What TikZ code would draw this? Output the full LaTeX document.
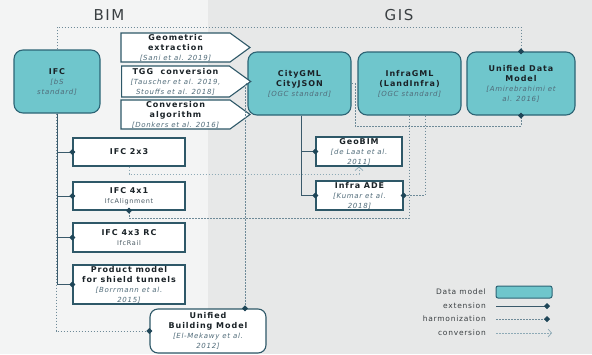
\documentclass[tikz,border=0pt]{standalone}
\usepackage{fontspec}
\setmainfont{DejaVu Sans}
\newfontfamily\lblfont[LetterSpace=12]{DejaVu Sans}
\newfontfamily\reffont[LetterSpace=10]{DejaVu Sans}
\newfontfamily\headfont[LetterSpace=10]{DejaVu Sans}
\usetikzlibrary{arrows.meta,shapes.symbols}
\definecolor{cFill}{HTML}{6FC6CC}
\definecolor{cBorder}{HTML}{2C6475}
\definecolor{cWb}{HTML}{2E5868}
\definecolor{cTxt}{HTML}{1A2227}
\definecolor{cRef}{HTML}{506B79}
\definecolor{cConn}{HTML}{3A5A6B}
\definecolor{cHarm}{HTML}{6E8A98}
\definecolor{cConv}{HTML}{8EAAB6}
\definecolor{cDia}{HTML}{1F4658}
\definecolor{cBgL}{HTML}{F3F4F4}
\definecolor{cBgR}{HTML}{E7E8E8}
\definecolor{cHead}{HTML}{3A3F42}
\definecolor{cSub}{HTML}{4A5A63}
\newcommand{\rf}[1]{{\reffont\mdseries\itshape\fontsize{7}{9}\selectfont\color{cRef}#1}}
\newcommand{\sbt}[1]{{\reffont\mdseries\fontsize{6.5}{9}\selectfont\color{cSub}#1}}
\begin{document}
\begin{tikzpicture}[x=1pt,y=-1pt,
  lbl/.style={align=center, text=cTxt, font=\lblfont\bfseries\fontsize{8}{10}\selectfont},
  dm/.style={lbl, draw=cBorder, fill=cFill, line width=1.1pt, rounded corners=9pt, inner sep=1pt},
  wb/.style={lbl, draw=cWb, fill=white, line width=1.1pt, inner sep=1pt},
  sig/.style={wb, shape=signal, signal to=east, signal pointer angle=72},
  dtip/.tip={Diamond[length=6pt,width=6pt,color=cDia,fill=cDia]},
  ext/.style={draw=cConn, line width=0.7pt, -dtip, shorten >=-3pt},
  harmline/.style={draw=cHarm, line width=0.7pt, dash pattern=on 1.6pt off 1.4pt},
  harm/.style={harmline, -dtip, shorten >=-3pt},
  conv/.style={draw=cConv, line width=0.7pt, dash pattern=on 1.6pt off 1.4pt, -{Straight Barb[length=3.5pt,width=8pt,color=cConv]}},
  legtxt/.style={font=\reffont\fontsize{7.5}{9}\selectfont, text=cHead, anchor=east, inner sep=0pt}
]
\fill[cBgR] (0,0) rectangle (592,354);
\fill[cBgL] (0,0) rectangle (208,354);
\useasboundingbox (0,0) rectangle (592,354);

% headings
\node[font=\headfont\fontsize{15}{17}\selectfont, text=cHead] (bim) at (109,15) {BIM};
\node[font=\headfont\fontsize{15}{17}\selectfont, text=cHead] (gis) at (399,15) {GIS};

% data models
\node[dm, minimum width=86pt, minimum height=63pt] (ifc) at (57,81.5) {IFC\\\rf{[bS}\\\rf{standard]}};
\node[dm, minimum width=103pt, minimum height=63pt] (city) at (299.5,83.5) {CityGML\\CityJSON\\\rf{[OGC standard]}};
\node[dm, minimum width=103pt, minimum height=63pt] (infra) at (409.5,83.5) {InfraGML\\(LandInfra)\\\rf{[OGC standard]}};
\node[dm, minimum width=108pt, minimum height=63pt] (udm) at (521,83.5) {Unified Data\\Model\\\rf{[Amirebrahimi et}\\\rf{al. 2016]}};

% conversions (arrow boxes)
\node[sig, minimum width=129pt, minimum height=29pt] (geo) at (175.5,47.5) {Geometric\\extraction\\\rf{[Sani et al. 2019]}};
\node[sig, minimum width=129pt, minimum height=31pt] (tgg) at (175.5,81.5) {TGG~ conversion\\\rf{[Tauscher et al. 2019,}\\\rf{Stouffs et al. 2018]}};
\node[sig, minimum width=129pt, minimum height=28pt] (calg) at (175.5,114.5) {Conversion\\algorithm\\\rf{[Donkers et al. 2016]}};

% IFC extensions
\node[wb, minimum width=112pt, minimum height=28pt] (ifc23) at (129,152) {IFC 2x3};
\node[wb, minimum width=112pt, minimum height=28pt] (ifc41) at (129,196) {IFC 4x1\\\sbt{IfcAlignment}};
\node[wb, minimum width=112pt, minimum height=29pt] (ifc43) at (129,237.5) {IFC 4x3 RC\\\sbt{IfcRail}};
\node[wb, minimum width=112pt, minimum height=37pt] (prod) at (129,284.5) {Product model\\for shield tunnels\\\rf{[Borrmann et al.}\\\rf{2015]}};
\node[wb, rounded corners=8pt, minimum width=116pt, minimum height=44pt] (ubm) at (208,331) {Unified\\Building Model\\\rf{[El-Mekawy et al.}\\\rf{2012]}};

% GIS extensions
\node[wb, minimum width=86pt, minimum height=29pt] (geobim) at (359,151.5) {GeoBIM\\\rf{[de Laat et al.}\\\rf{2011]}};
\node[wb, minimum width=87pt, minimum height=29pt] (ade) at (359.5,195.5) {Infra ADE\\\rf{[Kumar et al.}\\\rf{2018]}};

% extension connectors
\draw[ext] (ifc.south) |- (ifc23.west);
\draw[ext] (ifc.south) |- (ifc41.west);
\draw[ext] (ifc.south) |- (ifc43.west);
\draw[ext] (ifc.south) |- (prod.west);
\draw[ext] ([xshift=1.5pt]city.south) |- (geobim.west);
\draw[ext] ([xshift=1.5pt]city.south) |- (ade.west);

% harmonization connectors
\draw[harm] (ifc.north) -- (57,27) -| (udm.north);
\draw[harm] (city.east) -- (355,83.5) -- (355,126) -| (udm.south);
\draw[harm] (city.west) -| ([xshift=37pt]ubm.north);
\draw[harm] ([xshift=-1pt]ifc.south) |- (ubm.west);
\draw[harm] ([xshift=15.5pt]infra.south) |- (ade.east);
\draw[harm] (infra.south) -- (409.5,218) -| (ifc41.south);

% conversion connector
\draw[conv] (ifc23.south) -- (129,174) -| (geobim.south);

% legend
\node[legtxt] (l1) at (486,292) {Data model};
\node[dm, rounded corners=2pt, line width=1pt, minimum width=56pt, minimum height=12pt] (lbox) at (524,292) {};
\node[legtxt] (l2) at (486,306) {extension};
\node[legtxt] (l3) at (486,319) {harmonization};
\node[legtxt] (l4) at (486,333) {conversion};
\coordinate (e1) at (496,306); \coordinate (e2) at (547,306);
\coordinate (h1) at (496,319); \coordinate (h2) at (547,319);
\coordinate (c1) at (496,333); \coordinate (c2) at (552,333);
\draw[ext] (e1) -- (e2);
\draw[harm] (h1) -- (h2);
\draw[conv] (c1) -- (c2);
\end{tikzpicture}
\end{document}
